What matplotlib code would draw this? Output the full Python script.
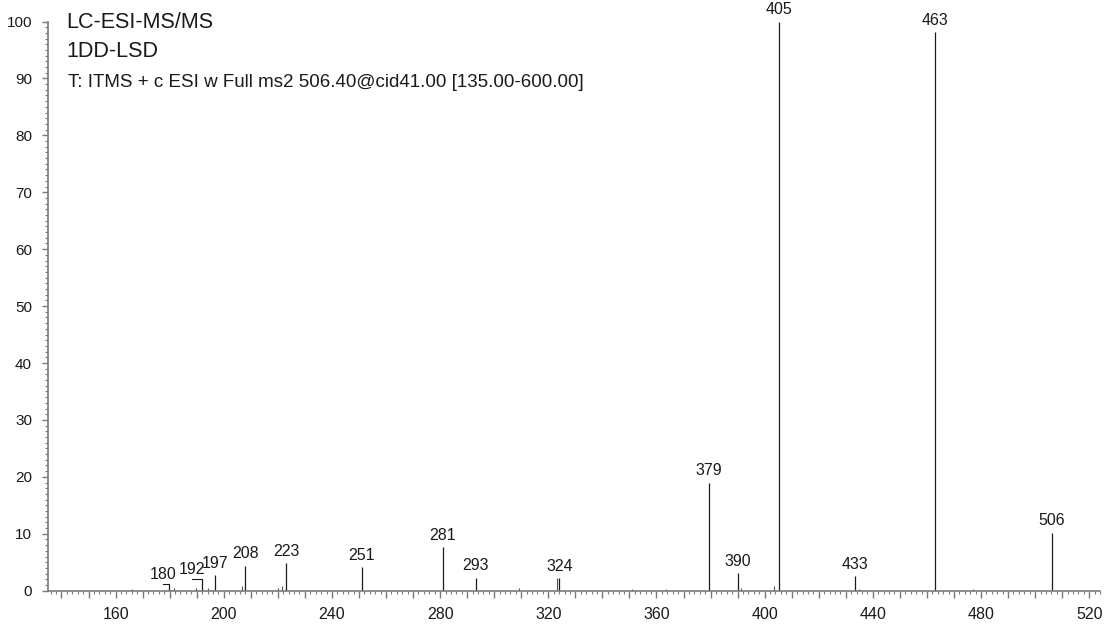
import matplotlib
matplotlib.use("Agg")
import matplotlib.pyplot as plt
from matplotlib.ticker import MultipleLocator, FuncFormatter

plt.rcParams["font.family"] = ["Liberation Sans", "DejaVu Sans"]

# labelled peaks (m/z, relative abundance)
peak_mz = [179.7, 191.8, 196.9, 207.9, 223.1, 251.0, 281.0, 293.1, 324.1,
           379.3, 390.2, 405.2, 433.5, 463.1, 506.2]
peak_int = [0.9, 1.7, 2.8, 4.4, 4.8, 4.1, 7.6, 2.3, 2.2,
            19.0, 3.1, 100.0, 2.5, 98.1, 10.2]
peak_text = ["180", "192", "197", "208", "223", "251", "281", "293", "324",
             "379", "390", "405", "433", "463", "506"]

# small unlabelled peaks along the baseline
minor_mz = [166.0, 181.6, 189.9, 194.0, 206.6, 219.9, 221.7, 309.1, 323.3,
            350.8, 363.7, 391.1, 403.3, 435.0, 477.2]
minor_int = [0.3, 0.5, 0.4, 0.5, 0.9, 0.5, 0.9, 0.4, 2.2,
             0.3, 0.3, 0.4, 0.9, 0.3, 0.3]

# labels moved sideways with a leader line: text -> (dx in m/z, leader height)
shifted = {"180": (-2.0, 0.3), "192": (-3.6, 0.4)}

ink = "#1a1a1a"
axis_gray = "#7a7a7a"

fig = plt.figure(figsize=(11.1, 6.25), dpi=100)
ax = fig.add_axes([0.0432, 0.0549, 0.9478, 0.9107])

ax.vlines(minor_mz, 0, minor_int, color="#555555", linewidth=0.8)
ax.vlines(peak_mz, 0, peak_int, color=ink, linewidth=0.9)

for mz, h, txt in zip(peak_mz, peak_int, peak_text):
    if txt in shifted:
        dx, lh = shifted[txt]
        ax.plot([mz + dx, mz, mz], [h + lh, h + lh, h], color=ink,
                linewidth=0.8, clip_on=False)
        ax.annotate(txt, (mz + dx, h + lh), xytext=(0, 1.5),
                    textcoords="offset points", ha="center", va="bottom",
                    fontsize=11.5, color=ink, annotation_clip=False)
    else:
        ax.annotate(txt, (mz, h), xytext=(0, 3), textcoords="offset points",
                    ha="center", va="bottom", fontsize=11.5, color=ink,
                    annotation_clip=False)

ax.set_xlim(135, 524)
ax.set_ylim(0, 100)

for s in ("top", "right"):
    ax.spines[s].set_visible(False)
for s in ("left", "bottom"):
    ax.spines[s].set_color(axis_gray)
    ax.spines[s].set_linewidth(1.2)

ax.xaxis.set_major_locator(MultipleLocator(10))
ax.xaxis.set_minor_locator(MultipleLocator(2))
ax.xaxis.set_major_formatter(FuncFormatter(lambda v, p: f"{v:.0f}" if v % 40 == 0 else ""))
ax.yaxis.set_major_locator(MultipleLocator(10))
ax.yaxis.set_minor_locator(MultipleLocator(1))

ax.tick_params(axis="both", which="major", labelsize=11, labelcolor=ink,
               color=axis_gray, width=1.0)
ax.tick_params(axis="both", which="minor", color=axis_gray, width=0.8, length=2.2)
ax.tick_params(axis="x", which="major", length=3.5, pad=8, labelsize=11.5)
ax.tick_params(axis="y", which="major", length=4.5, pad=7)

for t in ax.xaxis.get_major_ticks():
    if round(t.get_loc()) % 40 == 0:
        t.tick1line.set_markersize(5)

fig.text(66 / 1110, 1 - 28.5 / 625, "LC-ESI-MS/MS", fontsize=15.5, color=ink, va="baseline")
fig.text(66 / 1110, 1 - 57 / 625, "1DD-LSD", fontsize=15.5, color=ink, va="baseline")
fig.text(68 / 1110, 1 - 87 / 625,
         "T: ITMS + c ESI w Full ms2 506.40@cid41.00 [135.00-600.00]",
         fontsize=13.5, color=ink, va="baseline")

fig.savefig("out.png", dpi=100)
